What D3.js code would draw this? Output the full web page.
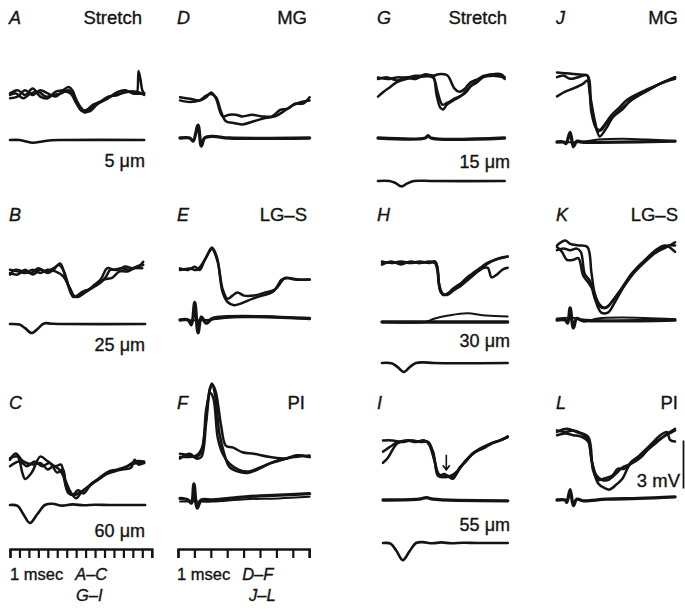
<!DOCTYPE html>
<html>
<head>
<meta charset="utf-8">
<script src="https://cdn.jsdelivr.net/npm/d3@7"></script>
<style>
  body { margin: 0; background: #fff; }
  svg { display: block; }
  text { font-family: "Liberation Sans", Arial, sans-serif; fill: #141414; stroke: #141414; stroke-width: 0.35px; }
</style>
</head>
<body>
<div id="fig"></div>
<script>
// traces as [msec, mV] ; stretch records as [msec, µm]
const mainA = [
  [[0,0.1],[0.8,0.3],[1.6,0.0],[2.4,0.4],[3.2,-0.1],[4.0,-0.2],[4.8,0.2],[5.6,0.3],[6.2,0.5],[6.6,0.3],[7.0,-0.3],[7.5,-0.9],[8.0,-1.1],[8.6,-0.8],[9.4,-0.5],[10.4,-0.2],[11.4,0.2],[12.2,0.3],[13.0,0.1],[14.2,0.1]],
  [[0,-0.2],[0.8,-0.1],[1.6,0.3],[2.4,0.0],[3.2,0.3],[4.0,0.1],[4.8,-0.1],[5.6,0.2],[6.4,0.1],[7.0,-0.5],[7.6,-1.0],[8.2,-0.9],[8.8,-0.6],[9.6,-0.4],[10.4,-0.1],[11.4,0.0],[12.2,0.2],[13.0,0.2],[13.4,0.1],[13.6,1.5],[13.8,1.0],[14.0,0.3],[14.2,0.1]],
  [[0,0.0],[0.6,0.1],[1.4,-0.2],[2.2,0.1],[3.0,0.2],[3.8,-0.1],[4.6,0.0],[5.4,0.1],[6.2,0.3],[6.8,-0.1],[7.4,-0.7],[7.9,-1.0],[8.5,-1.0],[9.2,-0.6],[10.0,-0.3],[11.0,0.0],[11.8,0.1],[12.6,0.2],[13.4,0.2],[14.2,0.0]]
];
const stretchA = [[0,0],[1.0,0],[1.6,-4],[2.4,-9],[3.4,-5],[4.4,-1],[5.5,0],[14.2,0]];

const mainB = [
  [[0,0],[0.8,-0.1],[1.6,0.2],[2.4,-0.1],[3.2,0.2],[4.0,0],[4.6,0.2],[5.3,0.6],[5.9,-0.3],[6.7,-1.5],[7.4,-1.3],[8.2,-1.1],[9.0,-0.7],[9.6,-0.4],[10.3,0.3],[11.0,0.2],[11.8,0.3],[12.6,0.2],[13.4,0.4],[14.1,0.5]],
  [[0,0.2],[0.8,0.1],[1.6,0],[2.4,0.2],[3.2,0],[4.0,0.2],[4.8,0.1],[5.6,-0.2],[6.3,-0.9],[6.9,-1.5],[7.6,-1.2],[8.4,-1.0],[9.2,-0.7],[10.0,-0.4],[10.8,-0.3],[11.6,0.1],[12.4,0.1],[13.2,0.3],[14.0,0.3]],
  [[0,-0.1],[0.6,0.2],[1.4,0.1],[2.2,0.0],[3.0,0.3],[3.8,0.1],[4.6,0.3],[5.2,0.5],[5.7,0.1],[6.2,-0.8],[6.7,-1.4],[7.2,-1.5],[8.0,-1.2],[8.8,-0.9],[9.6,-0.6],[10.2,-0.2],[10.6,0.2],[11.4,0.2],[12.2,0.4],[13.0,0.3],[13.8,0.5],[14.1,0.7]]
];
const stretchB = [[0,0],[1.0,-2],[1.6,-14],[2.3,-30],[3.0,-14],[3.6,2],[4.4,1],[5.5,0],[14.3,0]];

const mainC = [
  [[0,0.3],[0.8,0.4],[1.3,-0.6],[1.6,-1.0],[2.3,-0.6],[3.2,0.4],[4.0,0.1],[4.8,-0.2],[5.4,-0.1],[5.8,-1.2],[6.2,-1.9],[6.8,-2.0],[7.5,-1.8],[8.3,-1.5],[9.5,-0.9],[10.6,-0.5],[11.8,-0.4],[12.8,-0.1],[13.5,0.0],[14.2,0]],
  [[0,-0.2],[1.0,0.1],[1.8,-0.2],[2.6,0.1],[3.4,-0.2],[4.2,0.0],[5.0,-0.6],[5.6,-0.4],[6.0,-1.6],[6.6,-2.0],[7.2,-1.7],[7.8,-1.9],[8.6,-1.3],[9.4,-1.0],[10.4,-0.6],[11.4,-0.4],[12.4,-0.2],[13.2,0.1],[14.2,0.1]],
  [[0,0.2],[0.6,0.6],[1.4,0.1],[2.4,-0.1],[3.2,0.0],[4.0,-0.4],[4.6,-0.2],[5.2,-0.4],[5.8,-1.0],[6.4,-1.8],[7.0,-2.2],[7.6,-1.8],[8.4,-1.4],[9.2,-1.1],[10.2,-0.7],[11.2,-0.5],[12.0,-0.4],[12.8,-0.3],[13.2,0.2],[13.6,-0.1],[14.2,0.0]]
];
const stretchC = [[0,0],[0.8,-3],[1.4,-30],[2.1,-60],[2.9,-30],[3.7,0],[4.5,4],[5.5,-2],[6.6,2],[7.8,-1],[9,1],[10.5,0],[14.3,0]];

const mainD = [
  [[0,0.1],[0.6,0],[1.2,0.1],[1.6,0.4],[1.9,0.5],[2.2,0.3],[2.5,-0.6],[2.8,-1.2],[3.2,-1.3],[3.8,-1.4],[4.5,-1.2],[5.2,-1.0],[5.8,-0.9],[6.3,-0.6],[6.9,-0.2],[7.4,0.0],[7.9,0.1]],
  [[0,0.3],[0.6,0.2],[1.2,0.1],[1.6,0.3],[1.9,0.6],[2.2,0.2],[2.6,-0.9],[3.0,-0.8],[3.4,-0.8],[3.8,-0.9],[4.4,-0.8],[5.0,-0.9],[5.6,-0.9],[6.1,-0.5],[6.6,-0.4],[7.0,-0.1],[7.5,-0.1],[7.9,0.3]]
];
const lowerD = [
  [[0,0],[0.6,0],[0.8,-0.2],[1.1,0.8],[1.3,-0.5],[1.5,0.0],[2.0,0.1],[3,0],[7.9,0]]
];

const mainE = [
  [[0,0],[0.6,0.1],[1.0,0],[1.3,0.3],[1.6,0.8],[1.95,1.4],[2.25,0.8],[2.6,-1.4],[2.9,-2.0],[3.3,-2.2],[3.7,-2.1],[4.4,-1.8],[5.0,-1.6],[5.6,-1.4],[6.0,-1.0],[6.4,-0.5],[7.0,-0.6],[7.9,-0.6]],
  [[0,0.1],[0.5,0],[0.9,0.2],[1.2,0],[1.5,0.6],[1.95,1.3],[2.3,0.5],[2.6,-1.2],[2.9,-1.8],[3.2,-1.6],[3.5,-1.4],[3.9,-1.6],[4.5,-1.6],[5.2,-1.4],[5.8,-1.2],[6.2,-0.6],[6.6,-0.5],[7.2,-0.6],[7.9,-0.6]]
];
const lowerE = [
  [[0,0],[0.5,0],[0.7,-0.3],[0.9,1.1],[1.1,-0.8],[1.3,0.2],[1.6,-0.2],[2.0,0.1],[7.9,0.1]],
  [[0,0],[1.6,0],[2.5,0.1],[3.5,0.2],[5,0.25],[6.5,0.15],[7.9,0.05]]
];

const mainF = [
  [[0,0.2],[0.6,0.1],[1.0,0],[1.3,0.3],[1.55,2.0],[1.8,4.2],[1.95,4.6],[2.15,3.8],[2.4,1.5],[2.7,0.2],[3.0,-0.6],[3.5,-0.9],[4.1,-1.0],[4.7,-0.8],[5.5,-0.4],[6.5,-0.1],[7.1,0.1],[7.9,0.0]],
  [[0,-0.1],[0.6,0.2],[1.0,-0.1],[1.3,0.0],[1.6,2.2],[1.85,4.3],[2.0,4.5],[2.2,4.0],[2.5,2.0],[2.8,0.7],[3.2,0.6],[3.8,0.3],[4.5,0.2],[5.5,0.0],[6.5,-0.1],[7.1,0.1],[7.9,0.0]],
  [[0,0],[1.0,0.1],[1.35,0.6],[1.6,3.0],[1.85,4.0],[2.05,3.6],[2.3,1.2],[2.6,0.2],[3.0,-0.4],[3.6,-0.8],[4.2,-0.9],[5.0,-0.6],[6.0,-0.2],[7.0,0.0],[7.9,0.1]]
];
const lowerF = [
  [[0,0.1],[0.5,0],[0.7,-0.2],[0.85,1.0],[1.05,-0.5],[1.3,0],[2,0],[4,0.2],[6,0.3],[7.9,0.4]],
  [[0,-0.1],[1.3,-0.1],[2,-0.1],[4,0.05],[6,0.1],[7.9,0.2]]
];

const mainG = [
  [[0,0.1],[1,0.0],[2,0.1],[3,0.1],[4,0.2],[5,0.2],[5.8,0.2],[6.2,-1.0],[6.6,-1.8],[6.9,-1.9],[7.3,-1.6],[8.1,-1.3],[8.7,-1.1],[9.7,-0.5],[10.5,-0.2],[11.1,0.1],[12.2,0.3],[13.0,0.2],[13.4,0.0]],
  [[0,0.0],[1,0.1],[2,-0.1],[3,0.1],[4,0.0],[5,0.3],[5.8,0.2],[6.4,0.3],[7.0,0.3],[7.4,0.2],[8.1,-0.6],[8.6,-0.8],[9.2,-0.6],[9.8,-0.2],[10.6,0.0],[11.2,0.2],[12.2,0.3],[13.0,0.3],[13.4,0.1]],
  [[0,-1.1],[0.6,-0.8],[1.3,-0.5],[2.0,-0.2],[3,0.0],[4,0.1],[5.8,0.1],[6.3,-0.8],[6.8,-1.6],[7.3,-1.5],[8.2,-1.2],[9.2,-0.9],[10,-0.3],[11,0.1],[12.2,0.2],[13.4,0.1]]
];
const lowerG = [
  [[0,0],[5,0],[5.3,0.15],[5.6,0],[13.4,0]]
];
const stretchG = [[0,0],[1.2,0],[1.8,-6],[2.5,-18],[3.1,-8],[3.8,0],[4.5,1],[5.5,0],[13.4,0]];

const mainH = [
  [[0,0.1],[1,0.0],[2,0.1],[3,0],[4,0.1],[5,0],[5.6,0.1],[5.9,-0.4],[6.1,-1.6],[6.5,-2.0],[7.0,-1.9],[7.5,-1.6],[8.3,-1.3],[9.0,-0.9],[9.7,-0.6],[10.4,-0.3],[11.1,0.0],[12,0.2],[13.3,0.4]],
  [[0,-0.1],[1,0.1],[2,-0.1],[3,0.1],[4,0],[5,0.1],[5.6,0],[5.9,-0.6],[6.2,-1.8],[6.6,-2.0],[7.2,-1.8],[7.8,-1.5],[8.6,-1.2],[9.4,-0.8],[10.2,-0.5],[10.8,-0.3],[11.2,-0.3],[11.6,-0.9],[12.2,-0.7],[12.8,-0.4],[13.3,-0.3]],
  [[0,0.0],[1,0.05],[2,0.0],[3,0.05],[4,0.0],[5,0.05],[5.7,0.0],[6.0,-1.2],[6.4,-1.9],[6.9,-2.0],[7.6,-1.7],[8.4,-1.4],[9.2,-1.0],[10.0,-0.6],[10.8,-0.2],[11.6,0.1],[12.4,0.3],[13.3,0.4]]
];
const lowerH = [
  [[0,0],[13.3,0]],
  [[0,0],[4.6,0],[5.5,0.2],[7,0.4],[9,0.55],[11,0.4],[13.3,0.35]]
];
const stretchH = [[0,0],[1.0,-1],[1.6,-12],[2.3,-30],[3.0,-12],[3.6,0],[4.4,2],[5.5,0],[13.3,0]];

const mainI = [
  [[0,0.1],[1,0.1],[2,0],[3,0.1],[4,0],[4.7,0],[5.3,-0.6],[5.8,-2.1],[6.3,-2.2],[6.8,-2.1],[7.4,-2.3],[8.1,-1.6],[8.8,-1.2],[9.5,-0.7],[10.3,-0.4],[11.0,-0.2],[11.8,0.0],[12.4,0.1],[13.2,0.3]],
  [[0,-0.6],[0.5,-0.4],[1,-0.2],[1.6,0],[2.5,0.1],[3.5,0],[4.4,0.1],[4.9,-0.2],[5.5,-1.3],[5.9,-2.1],[6.5,-2.0],[7.0,-2.2],[7.6,-2.1],[8.3,-1.5],[9.0,-1.0],[9.8,-0.6],[10.6,-0.4],[11.5,-0.1],[12.4,0.1],[13.2,0.3]],
  [[0,-1.3],[0.5,-1.0],[1,-0.5],[1.5,-0.1],[2.5,0.1],[3.5,0.05],[4.8,0],[5.4,-1.0],[5.9,-2.0],[6.6,-2.2],[7.2,-2.1],[7.9,-1.8],[8.6,-1.3],[9.4,-0.8],[10.4,-0.4],[11.4,-0.1],[12.4,0.1],[13.2,0.35]]
];
const lowerI = [
  [[0,0],[3.8,0.05],[4.6,0.15],[5.3,0.05],[13.2,-0.05]]
];
const stretchI = [[0,0],[0.8,-2],[1.4,-25],[2.1,-57],[2.8,-28],[3.5,0],[4.2,3],[5.2,-1],[6.2,2],[7.2,-1],[8.5,1],[10,0],[13.2,0]];

const mainJ = [
  [[0,0.1],[0.5,0.05],[1.0,0.0],[1.5,-0.05],[1.85,-0.1],[2.05,-1.8],[2.3,-3.1],[2.5,-3.6],[2.8,-3.3],[3.3,-2.6],[3.8,-2.1],[4.3,-1.6],[5.2,-1.1],[6.3,-0.6],[7.2,-0.2]],
  [[0,-0.2],[0.4,-0.1],[0.8,-0.3],[1.3,-0.2],[1.85,-0.1],[2.1,-2.4],[2.4,-3.4],[2.7,-3.5],[3.0,-3.1],[3.5,-2.6],[4.0,-2.2],[4.6,-1.5],[5.4,-1.1],[6.3,-0.6],[7.2,-0.2]],
  [[0,-1.4],[0.5,-1.1],[1.0,-0.9],[1.6,-0.6],[1.85,-0.4],[2.0,-1.2],[2.3,-2.9],[2.6,-3.9],[3.0,-3.4],[3.4,-2.7],[3.9,-2.2],[4.6,-1.6],[5.4,-1.1],[6.3,-0.6],[7.2,-0.3]]
];
const lowerJ = [
  [[0,0],[0.4,0],[0.55,-0.1],[0.8,0.6],[1.0,-0.3],[1.2,0.05],[1.5,0],[7.2,0.05]],
  [[0,0],[1.5,0],[2.5,0.15],[4,0.2],[5.5,0.15],[7.2,0.05]]
];

const mainK = [
  [[0,0.1],[0.5,0.4],[0.8,0.2],[1.3,0.1],[1.85,0.0],[2.1,-1.6],[2.3,-2.9],[2.6,-3.6],[2.9,-3.8],[3.2,-3.6],[3.8,-2.8],[4.6,-1.6],[5.5,-0.7],[6.1,-0.3],[6.7,0.0],[7.2,0.3]],
  [[0,-0.2],[0.4,-0.1],[0.8,-0.2],[1.2,-0.1],[1.45,-0.3],[1.7,-1.7],[2.0,-2.1],[2.3,-3.2],[2.7,-4.1],[3.1,-4.1],[3.5,-3.5],[4.0,-2.6],[4.6,-1.7],[5.3,-0.9],[6.0,-0.2],[6.6,0.1],[7.2,-0.3]],
  [[0,0.0],[0.3,-0.3],[0.6,-0.8],[1.0,-0.8],[1.3,-0.7],[1.6,-1.8],[1.9,-2.2],[2.2,-2.7],[2.6,-3.7],[3.0,-3.8],[3.5,-3.2],[4.1,-2.4],[4.8,-1.5],[5.5,-0.8],[6.2,-0.2],[6.8,0.1],[7.2,0.1]]
];
const lowerK = [
  [[0,0],[0.5,0],[0.65,-0.2],[0.8,0.75],[1.0,-0.5],[1.2,0.1],[1.5,0],[7.2,0]],
  [[0,0.1],[1.2,0.1],[1.6,-0.1],[2.5,0.1],[4,0.15],[7.2,0.05]]
];

const mainL = [
  [[0,0.1],[0.5,0.0],[1.0,0.1],[1.5,-0.1],[1.9,-0.5],[2.1,-1.7],[2.4,-2.7],[2.75,-3.0],[3.1,-3.0],[3.6,-2.6],[4.0,-2.2],[4.5,-2.0],[5.1,-1.6],[5.8,-0.8],[6.5,-0.3],[7.2,0.1]],
  [[0,-0.2],[0.5,-0.1],[1.0,-0.2],[1.5,-0.3],[1.9,-0.6],[2.15,-2.0],[2.5,-3.2],[2.9,-3.5],[3.2,-3.6],[3.6,-3.3],[4.0,-2.9],[4.4,-2.1],[5.0,-1.5],[5.7,-0.8],[6.3,-0.2],[6.7,0.0],[6.9,-0.5],[7.2,-0.6]],
  [[0,0.0],[0.6,0.2],[1.2,0.0],[1.9,-0.3],[2.2,-2.4],[2.5,-3.0],[2.9,-2.9],[3.4,-2.7],[3.7,-2.3],[4.1,-2.3],[4.6,-1.8],[5.2,-1.4],[5.9,-0.8],[6.6,-0.2],[7.2,0.2]]
];
const lowerL = [
  [[0,0],[0.5,0],[0.6,-0.15],[0.8,0.65],[1.0,-0.35],[1.2,0.05],[1.6,-0.05],[3,0.05],[5,0.1],[7.2,0.2]]
];

const calibMv = 3;
const timeTicksAC = d3.range(0, 16);   // 1 msec divisions
const timeTicksDF = d3.range(0, 9);

// ---- drawing ----
const W = 685, H = 609;
const ink = "#141414";
const pxPerMv = 16, pxPerUm = 0.3;
const msSlow = 9.45, msFast = 16.4;

const svg = d3.select("#fig").append("svg")
    .attr("width", W).attr("height", H);

const panels = [
  { id: "A", title: "Stretch", lx: 9,   ty: 24,  tr: 142, x0: 10,  ms: msSlow, y0: 95,  main: mainA, stretch: stretchA, sy: 140, um: "5 \u03bcm",  uy: 167 },
  { id: "B", title: "",        lx: 9,   ty: 221, tr: 142, x0: 10,  ms: msSlow, y0: 273, main: mainB, stretch: stretchB, sy: 324, um: "25 \u03bcm", uy: 351 },
  { id: "C", title: "",        lx: 9,   ty: 409, tr: 142, x0: 10,  ms: msSlow, y0: 463, main: mainC, stretch: stretchC, sy: 505, um: "60 \u03bcm", uy: 537 },
  { id: "D", title: "MG",      lx: 177, ty: 24,  tr: 307, x0: 180, ms: msFast, y0: 102, main: mainD, lower: lowerD, ly: 138 },
  { id: "E", title: "LG\u2013S", lx: 177, ty: 221, tr: 307, x0: 180, ms: msFast, y0: 270, main: mainE, lower: lowerE, ly: 320 },
  { id: "F", title: "PI",      lx: 177, ty: 409, tr: 305, x0: 180, ms: msFast, y0: 457, main: mainF, lower: lowerF, ly: 500 },
  { id: "G", title: "Stretch", lx: 377, ty: 24,  tr: 507, x0: 378, ms: msSlow, y0: 79,  main: mainG, lower: lowerG, ly: 138, stretch: stretchG, sy: 181, um: "15 \u03bcm", uy: 168 },
  { id: "H", title: "",        lx: 377, ty: 221, tr: 507, x0: 382, ms: msSlow, y0: 263, main: mainH, lower: lowerH, ly: 322, stretch: stretchH, sy: 363, um: "30 \u03bcm", uy: 347 },
  { id: "I", title: "",        lx: 377, ty: 409, tr: 507, x0: 383, ms: msSlow, y0: 442, main: mainI, lower: lowerI, ly: 500, stretch: stretchI, sy: 543, um: "55 \u03bcm", uy: 531 },
  { id: "J", title: "MG",      lx: 556, ty: 24,  tr: 678, x0: 557, ms: msFast, y0: 74,  main: mainJ, lower: lowerJ, ly: 142 },
  { id: "K", title: "LG\u2013S", lx: 556, ty: 221, tr: 678, x0: 557, ms: msFast, y0: 247, main: mainK, lower: lowerK, ly: 320 },
  { id: "L", title: "PI",      lx: 556, ty: 409, tr: 678, x0: 557, ms: msFast, y0: 432, main: mainL, lower: lowerL, ly: 500 }
];

panels.forEach(p => {
  const g = svg.append("g").attr("class", "panel-" + p.id);
  const x = d3.scaleLinear().domain([0, 1]).range([p.x0, p.x0 + p.ms]);
  const y = d3.scaleLinear().domain([0, 1]).range([p.y0, p.y0 - pxPerMv]);
  const line = d3.line()
      .x(d => x(d[0])).y(d => y(d[1]))
      .curve(d3.curveCatmullRom.alpha(0.5));

  g.append("text").attr("x", p.lx).attr("y", p.ty)
      .attr("font-size", 18).attr("font-style", "italic").text(p.id);
  if (p.title) {
    g.append("text").attr("x", p.tr).attr("y", p.ty)
        .attr("text-anchor", "end").attr("font-size", 18.5).text(p.title);
  }

  g.selectAll("path.main").data(p.main).join("path")
      .attr("class", "main").attr("d", line)
      .attr("fill", "none").attr("stroke", ink)
      .attr("stroke-width", 2.5).attr("stroke-linejoin", "round").attr("stroke-linecap", "round");

  if (p.lower) {
    const yl = d3.scaleLinear().domain([0, 1]).range([p.ly, p.ly - pxPerMv]);
    const lineL = d3.line().x(d => x(d[0])).y(d => yl(d[1]))
        .curve(d3.curveCatmullRom.alpha(0.5));
    g.selectAll("path.lower").data(p.lower).join("path")
        .attr("class", "lower").attr("d", lineL)
        .attr("fill", "none").attr("stroke", ink)
        .attr("stroke-width", (d, i) => i === 0 ? 3.3 : 2)
        .attr("stroke-linejoin", "round").attr("stroke-linecap", "round");
  }

  if (p.stretch) {
    const ys = d3.scaleLinear().domain([0, 1]).range([p.sy, p.sy - pxPerUm]);
    const lineS = d3.line().x(d => x(d[0])).y(d => ys(d[1]))
        .curve(d3.curveCatmullRom.alpha(0.5));
    g.append("path").attr("d", lineS(p.stretch))
        .attr("fill", "none").attr("stroke", ink)
        .attr("stroke-width", 2.6).attr("stroke-linecap", "round");
    g.append("text").attr("x", p.tr + 3).attr("y", p.uy)
        .attr("text-anchor", "end").attr("font-size", 18).text(p.um);
  }

  // arrow marking the inflection in I
  if (p.id === "I") {
    const ax = x(6.7);
    g.append("path")
        .attr("d", `M${ax},${y(-0.8)}V${y(-1.75)}M${ax - 3.5},${y(-1.45)}L${ax},${y(-1.75)}L${ax + 3.5},${y(-1.45)}`)
        .attr("fill", "none").attr("stroke", ink).attr("stroke-width", 1.6);
  }

  // 3 mV calibration next to L
  if (p.id === "L") {
    const cal = d3.scaleLinear().domain([0, calibMv]).range([488, 488 - calibMv * pxPerMv]);
    const axisCal = d3.axisRight(cal).tickValues([]).tickSizeOuter(0);
    svg.append("g").attr("transform", "translate(683,0)").call(axisCal)
        .select(".domain").attr("stroke", ink).attr("stroke-width", 1.8);
    svg.append("text").attr("x", 680).attr("y", 487)
        .attr("text-anchor", "end").attr("font-size", 18.5).text("3 mV");
  }
});

// time bars
function timeBar(x0, ms, ticks, y) {
  const last = ticks[ticks.length - 1];
  const s = d3.scaleLinear().domain([0, last]).range([x0, x0 + ms * last]);
  const ax = d3.axisBottom(s).tickValues(ticks).tickSize(9).tickSizeOuter(9).tickFormat("");
  const g = svg.append("g").attr("transform", `translate(0,${y})`).call(ax);
  g.select(".domain").attr("stroke", ink).attr("stroke-width", 2.4);
  g.selectAll(".tick line").attr("stroke", ink).attr("stroke-width", 2.2);
}
timeBar(10, msSlow, timeTicksAC, 549);
timeBar(178, msFast, timeTicksDF, 549);

function timeLabel(x, y, groups) {
  const t = svg.append("text").attr("x", x).attr("y", y).attr("font-size", 16.5);
  t.append("tspan").text("1 msec");
  t.append("tspan").attr("dx", 12).attr("font-style", "italic").text(groups);
}
timeLabel(10, 580, "A\u2013C");
timeLabel(177, 580, "D\u2013F");
svg.append("text").attr("x", 76).attr("y", 601).attr("font-size", 16.5)
    .attr("font-style", "italic").text("G\u2013I");
svg.append("text").attr("x", 249).attr("y", 601).attr("font-size", 16.5)
    .attr("font-style", "italic").text("J\u2013L");
</script>
</body>
</html>
